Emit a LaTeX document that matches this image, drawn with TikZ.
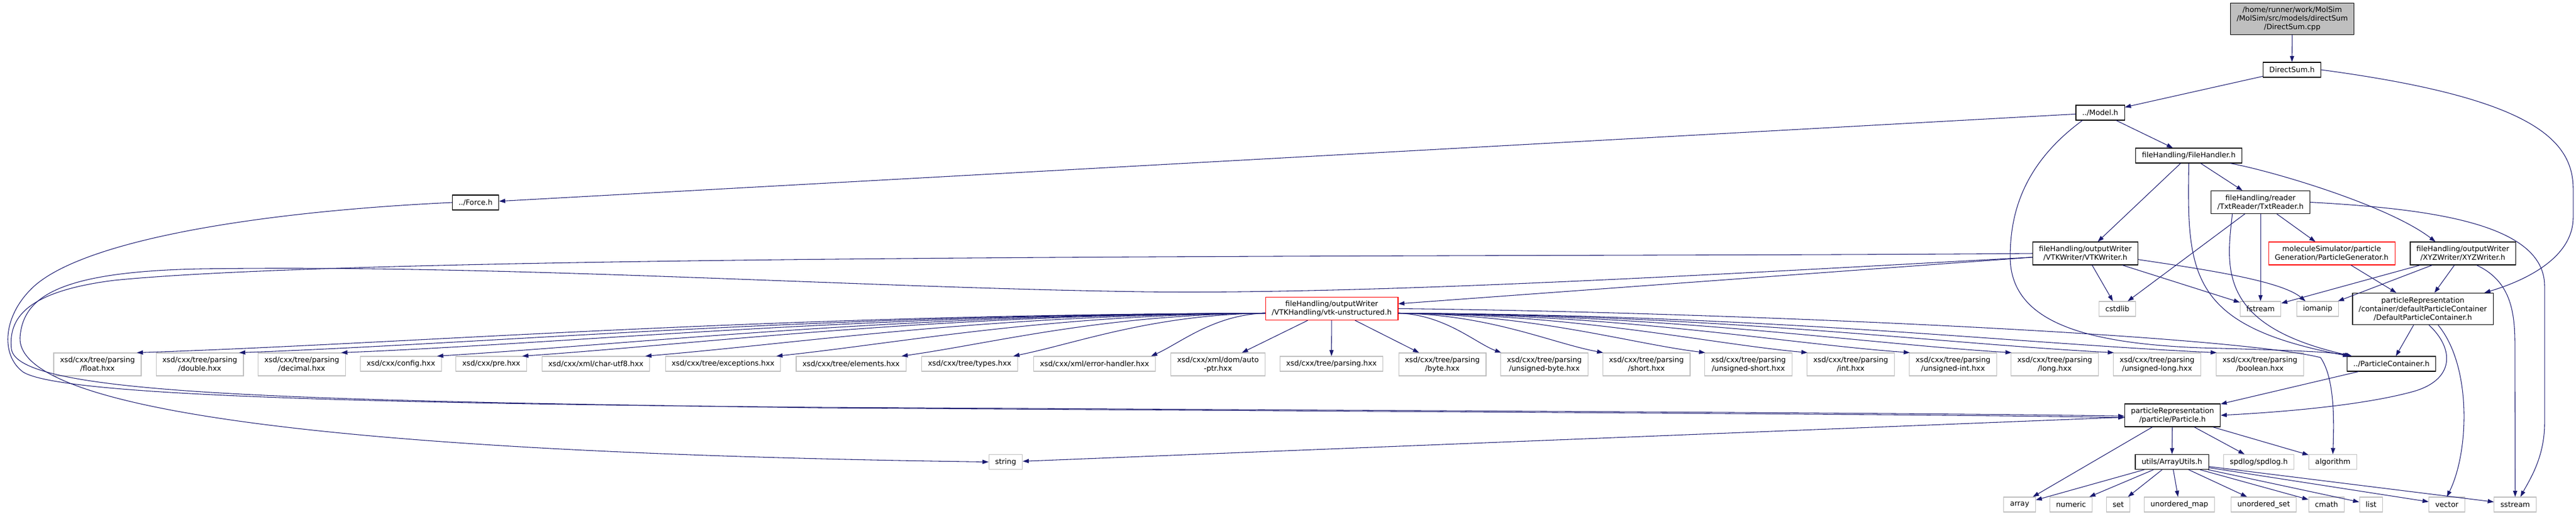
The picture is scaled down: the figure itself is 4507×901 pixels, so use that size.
\documentclass[tikz,border=0pt]{standalone}
\usepackage{fontspec}
\setmainfont{DejaVu Sans}
\usepackage{tikz}
\usetikzlibrary{arrows.meta}
\definecolor{edgeblue}{HTML}{191970}
\definecolor{sysgray}{HTML}{BFBFBF}
\definecolor{rootgray}{HTML}{BFBFBF}

\begin{document}
\begin{tikzpicture}[x=0.75pt, y=-0.75pt,
    every node/.style={font=\fontsize{9.6}{11.25}\selectfont, align=center,
        inner xsep=8.25pt, inner ysep=3.75pt, minimum height=19.5pt, line width=0.8pt},
    hdr/.style={draw=black, fill=white},
    sys/.style={draw=sysgray, fill=white},
    trunc/.style={draw=red, fill=white},
    two/.style={minimum height=30pt},
    three/.style={minimum height=41.5pt},
    dep/.style={draw=edgeblue, line width=0.8pt, -{Triangle[length=8pt,width=5.5pt]}}]
        \useasboundingbox (0,0) rectangle (4507,901);

        % Project headers
        \node[hdr, fill=rootgray, three] (root) at (4010.5,33)
            {/home/runner/work/MolSim\\/MolSim/src/models/directSum\\/DirectSum.cpp};
        \node[hdr] (dsumh) at (4010,122) {DirectSum.h};
        \node[hdr] (model) at (3674.5,197) {../Model.h};
        \node[hdr] (force) at (832,354) {../Force.h};
        \node[hdr] (fh) at (3829.5,272) {fileHandling/FileHandler.h};
        \node[hdr, two] (txt) at (3955,353.5) {fileHandling/reader\\/TxtReader/TxtReader.h};
        \node[hdr, two] (vtkw) at (3648.5,443) {fileHandling/outputWriter\\/VTKWriter/VTKWriter.h};
        \node[trunc, two] (pgen) at (4079.5,443) {moleculeSimulator/particle\\Generation/ParticleGenerator.h};
        \node[hdr, two] (xyzw) at (4309,443) {fileHandling/outputWriter\\/XYZWriter/XYZWriter.h};
        \node[hdr, three] (dpc) at (4239,540)
            {particleRepresentation\\/container/defaultParticleContainer\\/DefaultParticleContainer.h};
        \node[trunc, two] (vtku) at (2330,539.5) {fileHandling/outputWriter\\/VTKHandling/vtk-unstructured.h};
        \node[hdr] (pc) at (4184,636) {../ParticleContainer.h};
        \node[hdr, two] (particle) at (3801,726) {particleRepresentation\\/particle/Particle.h};
        \node[hdr] (autils) at (3800,807.5) {utils/ArrayUtils.h};

        % System headers
        \node[sys] (cstdlib) at (3704.5,540) {cstdlib};
        \node[sys] (fstream) at (3955,540) {fstream};
        \node[sys] (iomanip) at (4055,540) {iomanip};
        \node[sys] (string) at (1759.5,807.5) {string};
        \node[sys] (spdlog) at (3952,807.5) {spdlog/spdlog.h};
        \node[sys] (algorithm) at (4081.5,807.5) {algorithm};
        \foreach \n/\t/\x in {array/array/3533.5, numeric/numeric/3623.5, set/set/3706,
                umap/unordered\_map/3813, uset/unordered\_set/3960.5, cmath/cmath/4070.5,
                list/list/4148.5, vector/vector/4281, sstream/sstream/4400.5}
            \node[sys] (\n) at (\x,882) {\t};

        % XSD headers
        \foreach \n/\t/\x in {xfloat/float/170.5, xdouble/double/349.5, xdecimal/decimal/528,
                xbyte/byte/2523.5, xubyte/unsigned-byte/2702, xshort/short/2880.5,
                xushort/unsigned-short/3059, xint/int/3238, xuint/unsigned-int/3417,
                xlong/long/3595, xulong/unsigned-long/3774, xbool/boolean/3954}
            \node[sys, two] (\n) at (\x,637) {xsd/cxx/tree/parsing\\/\t.hxx};
        \foreach \n/\t/\x in {xconfig/{config}/701.5, xpre/{pre}/859.5, xutf/{xml/char-utf8}/1042.5,
                xexc/{tree/exceptions}/1265, xelem/{tree/elements}/1489, xtypes/{tree/types}/1696.5,
                xerr/{xml/error-handler}/1915, xparse/{tree/parsing}/2329.5}
            \node[sys] (\n) at (\x,636) {xsd/cxx/\t.hxx};
        \node[sys, two] (xauto) at (2131,637) {xsd/cxx/xml/dom/auto\\-ptr.hxx};

        % DirectSum and Model
        \draw[dep] (root) -- (dsumh);
        \draw[dep] (dsumh) -- (model);
        \draw[dep] (dsumh.east) .. controls (4420,170) and (4502,240) .. (4502,330)
            -- (4502,380) .. controls (4502,450) and (4420,490) .. ([xshift=-12pt]dpc.north east);
        \draw[dep] (model) -- (force);
        \draw[dep] (model) -- (fh);
        \draw[dep] ([xshift=9pt]model.south west) .. controls (3535,290) and (3517,380) .. (3517,450)
            .. controls (3518,560) and (3640,600) .. (3850,608)
            .. controls (4000,612) and (4080,615) .. ([xshift=5pt]pc.north west);

        % FileHandler and readers
        \draw[dep] (fh) -- (vtkw);
        \draw[dep] (fh) -- (txt);
        \draw[dep] (fh.south) .. controls (3826,480) and (3830,570) .. ([xshift=3pt]pc.north west);
        \draw[dep] (fh) .. controls (3980,300) and (4180,360) .. ([xshift=-36pt]xyzw.north);
        \draw[dep] (txt) -- (pgen);
        \draw[dep] (txt) -- (cstdlib);
        \draw[dep] (txt) -- (fstream);
        \draw[dep] ([xshift=-37pt]txt.south) .. controls (3895,470) and (3880,570) .. ([xshift=7pt]pc.north west);
        \draw[dep] (txt.east) .. controls (4250,365) and (4452,390) .. (4452,500)
            -- (4452,740) .. controls (4452,800) and (4425,840) .. ([xshift=7pt]sstream.north);

        % Writers
        \draw[dep] (vtkw) -- (vtku);
        \draw[dep] (vtkw) -- (cstdlib);
        \draw[dep] (vtkw) -- (fstream);
        \draw[dep] ([yshift=-8pt]vtkw.east) .. controls (3850,470) and (3990,490) .. ([xshift=-16pt]iomanip.north);
        \draw[dep] (vtkw.west) .. controls (2800,450) and (700,440) .. (200,490)
            .. controls (40,510) and (15,560) .. (20,610)
            .. controls (30,690) and (500,700) .. (1435,713)
            .. controls (2500,720) and (3400,724) .. ([yshift=-3pt]particle.west);
        \draw[dep] ([yshift=-5pt]vtkw.west) .. controls (3000,480) and (2400,515) .. (2000,510)
            .. controls (1500,503) and (900,462) .. (350,470)
            .. controls (100,475) and (40,520) .. (35,590)
            .. controls (30,700) and (450,790) .. (string.west);
        \draw[dep] (force.west) .. controls (450,370) and (150,420) .. (60,500)
            .. controls (5,550) and (0,620) .. (40,650)
            .. controls (100,690) and (600,705) .. (1435,712)
            .. controls (2500,718) and (3400,722) .. ([yshift=-1pt]particle.west);
        \draw[dep] (xyzw) -- (fstream);
        \draw[dep] (xyzw) -- (iomanip);
        \draw[dep] (xyzw) -- (dpc);
        \draw[dep] ([xshift=18pt]xyzw.south) .. controls (4390,490) and (4400,540) .. (4400,600) -- (sstream.north);
        \draw[dep] (pgen) -- (dpc);

        % Containers
        \draw[dep] (dpc) -- (pc);
        \draw[dep] ([xshift=8pt]dpc.south) .. controls (4295,610) and (4295,665) .. (4220,685)
            .. controls (4120,712) and (3960,722) .. (particle.east);
        \draw[dep] ([xshift=20pt]dpc.south) .. controls (4325,640) and (4320,790) .. (vector.north);
        \draw[dep] (pc) -- (particle);

        % vtk-unstructured
        \draw[dep] (vtku) -- (xbyte);
        \draw[dep] (vtku) -- (xparse);
        \draw[dep] (vtku) -- (xauto);
        \foreach \n/\t in {xfloat/240, xdouble/418, xdecimal/596, xconfig/764, xpre/913,
                xutf/1130, xexc/1360, xelem/1578, xtypes/1774, xerr/2015}
            \draw[dep] ([yshift=-6pt]vtku.west) .. controls ({2213-0.45*(2213-\t)},550)
                and ({\t+0.25*(2213-\t)},600) .. ([xshift=-6pt]\n.north east);
        \foreach \n/\t in {xubyte/2627, xshort/2805, xushort/2984, xint/3162, xuint/3341,
                xlong/3519, xulong/3698, xbool/3878}
            \draw[dep] ([yshift=-6pt]vtku.east) .. controls ({2447+0.45*(\t-2447)},550)
                and ({\t-0.25*(\t-2447)},600) .. ([xshift=1pt]\n.north west);
        \draw[dep] (vtku.east) .. controls (3000,545) and (3900,585) .. (4060,625)
            .. controls (4084,660) and (4084,730) .. (algorithm.north);

        % Particle and ArrayUtils
        \foreach \n in {autils, spdlog, algorithm, array, string}
            \draw[dep] (particle) -- (\n);
        \foreach \n in {array, numeric, set, umap, uset, cmath, list, vector, sstream}
            \draw[dep] (autils) -- (\n);
    \end{tikzpicture}
\end{document}
